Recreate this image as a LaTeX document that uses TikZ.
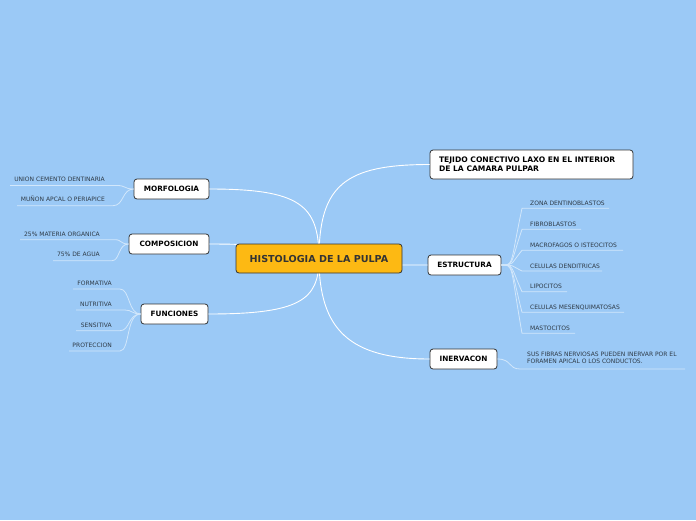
\documentclass[tikz,border=0pt]{standalone}
\usepackage{fontspec}
\setmainfont{DejaVu Sans}
\definecolor{bgblue}{HTML}{9BC9F6}
\definecolor{mainorange}{HTML}{FDB913}
\definecolor{edgegray}{HTML}{333333}
\definecolor{leaftext}{HTML}{2E3A46}
\begin{document}
\begin{tikzpicture}[x=1pt,y=-1pt,
  topic/.style={draw=edgegray,line width=0.8pt,fill=white,rounded corners=3pt,
    font=\fontsize{7.3}{8.5}\selectfont\bfseries,text=black,inner sep=0pt,minimum height=20pt},
  central/.style={topic,fill=mainorange,minimum height=29pt,minimum width=166pt,
    font=\fontsize{9.6}{11}\selectfont\bfseries,text=edgegray},
  mainline/.style={draw=white,line width=0.9pt},
  leafline/.style={draw=white!55!bgblue,line width=0.8pt},
  leaf/.style={font=\fontsize{6}{7}\selectfont,text=leaftext,inner sep=0pt},
]
\fill[bgblue] (0,0) rectangle (696,520);
\useasboundingbox (0,0) rectangle (696,520);

\coordinate (cc) at (319,258.5);

% ---------- leaves left ----------
\node[leaf,anchor=base east] (m1) at (105,181.2) {UNION CEMENTO DENTINARIA};
\node[leaf,anchor=base east] (m2) at (105,201.6) {MUÑON APCAL O PERIAPICE};
\coordinate (m1a) at (10,185.5); \coordinate (m1b) at (117,185.5);
\coordinate (m2a) at (17,205.7); \coordinate (m2b) at (113,205.7);
\node[leaf,anchor=base east] (c1) at (100,236) {25\% MATERIA ORGANICA};
\node[leaf,anchor=base east] (c2) at (100,256.5) {75\% DE AGUA};
\coordinate (c1a) at (20,239.7); \coordinate (c1b) at (115,239.7);
\coordinate (c2a) at (53,260.7); \coordinate (c2b) at (112,260.7);
\node[leaf,anchor=base east] (f1) at (112,285.2) {FORMATIVA};
\node[leaf,anchor=base east] (f2) at (112,306.2) {NUTRITIVA};
\node[leaf,anchor=base east] (f3) at (112,327) {SENSITIVA};
\node[leaf,anchor=base east] (f4) at (112,347.2) {PROTECCION};
\coordinate (f1a) at (73,289); \coordinate (f1b) at (120,289);
\coordinate (f2a) at (76,310); \coordinate (f2b) at (125,310);
\coordinate (f3a) at (76,330.7); \coordinate (f3b) at (120,330.7);
\coordinate (f4a) at (69,351); \coordinate (f4b) at (120,351);

% ---------- leaves right ----------
\node[leaf,anchor=base west] (e1) at (530,205) {ZONA DENTINOBLASTOS};
\node[leaf,anchor=base west] (e2) at (530,226) {FIBROBLASTOS};
\node[leaf,anchor=base west] (e3) at (530,247) {MACROFAGOS O ISTEOCITOS};
\node[leaf,anchor=base west] (e4) at (530,268) {CELULAS DENDITRICAS};
\node[leaf,anchor=base west] (e5) at (530,288.5) {LIPOCITOS};
\node[leaf,anchor=base west] (e6) at (530,309) {CELULAS MESENQUIMATOSAS};
\node[leaf,anchor=base west] (e7) at (530,330) {MASTOCITOS};
\coordinate (e1a) at (522,208.3); \coordinate (e1b) at (609,208.3);
\coordinate (e2a) at (522,229.3); \coordinate (e2b) at (581,229.3);
\coordinate (e3a) at (522,250.3); \coordinate (e3b) at (623,250.3);
\coordinate (e4a) at (522,271);   \coordinate (e4b) at (602,271);
\coordinate (e5a) at (522,291.7); \coordinate (e5b) at (567,291.7);
\coordinate (e6a) at (522,312.3); \coordinate (e6b) at (624,312.3);
\coordinate (e7a) at (522,333.3); \coordinate (e7b) at (575,333.3);

\node[leaf,anchor=north west,align=left,font=\fontsize{6}{7}\selectfont] (i1) at (527,352.3)
  {SUS FIBRAS NERVIOSAS PUEDEN INERVAR POR EL\\FORAMEN APICAL O LOS CONDUCTOS.};
\coordinate (i1a) at (520,369); \coordinate (i1b) at (685,369);

% ---------- topic nodes ----------
\node[topic,minimum width=75pt] (morf) at (171.5,189) {MORFOLOGIA};
\node[topic,minimum width=80pt] (comp) at (169,244) {COMPOSICION};
\node[topic,minimum width=67pt] (func) at (174.5,314) {FUNCIONES};
\node[topic,minimum width=203pt,minimum height=29pt,align=left,
  font=\fontsize{7.6}{9}\selectfont\bfseries] (tej) at (531.5,164.5)
  {\makebox[185pt][l]{TEJIDO CONECTIVO LAXO EN EL INTERIOR}\\\makebox[185pt][l]{DE LA CAMARA PULPAR}};
\node[topic,minimum width=73pt] (estr) at (464.5,265) {ESTRUCTURA};
\node[topic,minimum width=67pt] (inerv) at (463.5,359) {INERVACON};

% ---------- leaf connectors ----------
\draw[leafline] (m1a) -- (m1b) .. controls (126,185.5) and (124,189) .. (morf.west);
\draw[leafline] (m2a) -- (m2b) .. controls (124,205.7) and (122,189) .. (morf.west);
\draw[leafline] (c1a) -- (c1b) .. controls (122,239.7) and (120,244) .. (comp.west);
\draw[leafline] (c2a) -- (c2b) .. controls (120,260.7) and (118,244) .. (comp.west);
\draw[leafline] (f1a) -- (f1b) .. controls (130,289) and (128,314) .. (func.west);
\draw[leafline] (f2a) -- (f2b) .. controls (132,310) and (132,314) .. (func.west);
\draw[leafline] (f3a) -- (f3b) .. controls (130,330.7) and (128,314) .. (func.west);
\draw[leafline] (f4a) -- (f4b) .. controls (130,351) and (126,314) .. (func.west);

\foreach \k in {1,...,7}{
  \draw[leafline] (estr.east) .. controls (514,265) and (510,265) .. (e\k a) -- (e\k b);
}
\draw[leafline] (inerv.east) .. controls (512,359) and (508,369) .. (i1a) -- (i1b);

% ---------- main connectors ----------
\draw[mainline] (morf.east) .. controls (300,189) and (319,205) .. (cc);
\draw[mainline] (comp.east) .. controls (280,244) and (300,250) .. (cc);
\draw[mainline] (func.east) .. controls (300,314) and (319,300) .. (cc);
\draw[mainline] (cc) .. controls (319,185) and (345,164.5) .. (tej.west);
\draw[mainline] (cc) .. controls (360,265) .. (estr.west);
\draw[mainline] (cc) .. controls (319,330) and (350,359) .. (inerv.west);

\node[central] (c) at (cc) {HISTOLOGIA DE LA PULPA};
\end{tikzpicture}
\end{document}
